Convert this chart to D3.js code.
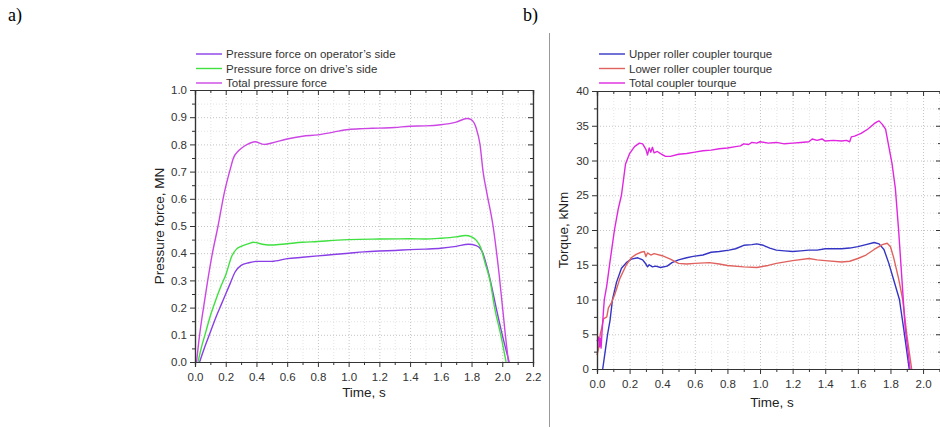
<!DOCTYPE html>
<html>
<head>
<meta charset="utf-8">
<script src="https://cdn.jsdelivr.net/npm/d3@7"></script>
<style>
  body { margin: 0; background: #fff; }
  svg { display: block; font-family: "Liberation Sans", Arial, sans-serif; }
  .tick text { fill: #333; font-size: 11.5px; }
  .domain { stroke: #333; }
  .tick line { stroke: #333; }
</style>
</head>
<body>
<svg id="chart" width="940" height="427"></svg>
<script>
// panel a) - pressure force, MN
var timeA = [0.00, 0.01, 0.03, 0.05, 0.08, 0.11, 0.15, 0.19, 0.23, 0.25, 0.28, 0.30, 0.34, 0.39, 0.45, 0.50, 0.60, 0.70, 0.80, 0.90, 1.00, 1.10, 1.20, 1.30, 1.40, 1.50, 1.60, 1.70, 1.77, 1.80, 1.83, 1.855, 1.875, 1.90, 1.94, 1.98, 2.02, 2.04];
var totalForce = [null, 0.00, 0.10, 0.18, 0.29, 0.39, 0.50, 0.62, 0.71, 0.75, 0.775, 0.785, 0.80, 0.81, 0.80, 0.805, 0.82, 0.83, 0.835, 0.845, 0.855, 0.858, 0.86, 0.862, 0.867, 0.868, 0.872, 0.882, 0.895, 0.89, 0.86, 0.80, 0.70, 0.62, 0.50, 0.32, 0.10, 0.00];

var timeB = [0.02, 0.04, 0.07, 0.10, 0.13, 0.17, 0.20, 0.24, 0.27, 0.30, 0.35, 0.38, 0.45, 0.50, 0.60, 0.70, 0.80, 0.90, 1.00, 1.20, 1.40, 1.50, 1.60, 1.70, 1.76, 1.80, 1.83, 1.86, 1.89, 1.92, 1.95, 1.99, 2.025];
var driveForce = [0.00, 0.05, 0.11, 0.17, 0.22, 0.28, 0.32, 0.39, 0.415, 0.425, 0.435, 0.44, 0.432, 0.43, 0.435, 0.44, 0.443, 0.447, 0.45, 0.452, 0.453, 0.452, 0.455, 0.46, 0.465, 0.46, 0.448, 0.42, 0.36, 0.30, 0.20, 0.10, 0.00];

var timeC = [0.03, 0.06, 0.10, 0.14, 0.17, 0.20, 0.23, 0.26, 0.30, 0.35, 0.40, 0.50, 0.60, 0.70, 0.80, 0.90, 1.00, 1.10, 1.20, 1.30, 1.40, 1.50, 1.60, 1.70, 1.78, 1.83, 1.87, 1.90, 1.93, 1.96, 2.00, 2.045];
var operatorForce = [0.00, 0.05, 0.11, 0.17, 0.21, 0.25, 0.29, 0.33, 0.355, 0.365, 0.37, 0.37, 0.38, 0.385, 0.39, 0.395, 0.40, 0.405, 0.408, 0.41, 0.413, 0.415, 0.418, 0.425, 0.433, 0.428, 0.405, 0.35, 0.28, 0.20, 0.10, 0.00];

// panel b) - coupler torque, kNm
var timeT = [0.00, 0.01, 0.015, 0.02, 0.025, 0.03, 0.04, 0.045, 0.06, 0.08, 0.107, 0.13, 0.15, 0.17, 0.175, 0.20, 0.23, 0.26, 0.28, 0.30, 0.31, 0.32, 0.33, 0.34, 0.35, 0.37, 0.39, 0.42, 0.45, 0.50, 0.55, 0.60, 0.65, 0.70, 0.75, 0.80, 0.85, 0.88, 0.90, 0.93, 0.95, 0.98, 1.00, 1.05, 1.10, 1.15, 1.20, 1.25, 1.30, 1.32, 1.35, 1.38, 1.40, 1.45, 1.50, 1.53, 1.55, 1.56, 1.58, 1.62, 1.66, 1.70, 1.72, 1.73, 1.75, 1.77, 1.79, 1.81, 1.83, 1.85, 1.87, 1.89, 1.92];
var totalTorque = [4.0, 4.6, 3.2, 4.4, 3.0, 5.0, 8.5, 10.0, 12.0, 15.5, 20.0, 23.0, 25.0, 28.6, 29.5, 31.0, 32.0, 32.5, 32.4, 31.6, 30.8, 31.8, 31.2, 31.9, 31.1, 31.3, 31.0, 30.6, 30.6, 30.9, 31.0, 31.2, 31.4, 31.5, 31.7, 31.8, 32.0, 32.1, 32.4, 32.3, 32.6, 32.5, 32.7, 32.5, 32.6, 32.4, 32.5, 32.6, 32.7, 33.1, 32.9, 33.1, 32.8, 32.9, 32.8, 32.9, 32.7, 33.4, 33.5, 33.9, 34.5, 35.3, 35.6, 35.7, 35.2, 34.5, 32.0, 29.5, 26.0, 20.0, 13.0, 6.0, 0.0];

var timeU = [0.035, 0.05, 0.065, 0.08, 0.095, 0.12, 0.15, 0.18, 0.21, 0.25, 0.28, 0.30, 0.31, 0.32, 0.34, 0.36, 0.39, 0.43, 0.46, 0.50, 0.55, 0.59, 0.65, 0.70, 0.75, 0.81, 0.85, 0.90, 0.95, 0.98, 1.02, 1.06, 1.10, 1.15, 1.20, 1.25, 1.30, 1.35, 1.40, 1.45, 1.50, 1.55, 1.60, 1.65, 1.70, 1.73, 1.76, 1.79, 1.82, 1.855, 1.88, 1.915];
var upperTorque = [0.0, 2.5, 5.0, 7.0, 10.0, 12.5, 14.5, 15.3, 15.8, 16.0, 15.7, 15.1, 14.7, 15.0, 14.7, 14.8, 14.6, 14.8, 15.3, 15.7, 16.0, 16.2, 16.4, 16.8, 16.9, 17.1, 17.3, 17.8, 17.9, 18.0, 17.8, 17.4, 17.1, 17.0, 16.9, 17.0, 17.1, 17.1, 17.3, 17.3, 17.3, 17.4, 17.6, 17.9, 18.2, 18.0, 17.2, 15.2, 12.8, 10.0, 6.0, 0.0];

var timeL = [0.00, 0.01, 0.02, 0.03, 0.04, 0.06, 0.07, 0.09, 0.11, 0.14, 0.18, 0.21, 0.24, 0.27, 0.29, 0.30, 0.31, 0.33, 0.35, 0.40, 0.45, 0.50, 0.55, 0.60, 0.69, 0.75, 0.80, 0.90, 0.98, 1.05, 1.10, 1.20, 1.30, 1.35, 1.40, 1.50, 1.55, 1.60, 1.65, 1.70, 1.75, 1.78, 1.80, 1.82, 1.85, 1.875, 1.90, 1.93];
var lowerTorque = [2.0, 3.0, 5.0, 6.0, 7.2, 7.5, 8.8, 9.6, 10.8, 13.0, 15.0, 16.0, 16.5, 16.8, 16.9, 16.2, 16.7, 16.4, 16.6, 16.3, 15.8, 15.2, 15.1, 15.2, 15.3, 15.1, 14.9, 14.7, 14.6, 14.9, 15.2, 15.6, 15.9, 15.7, 15.6, 15.4, 15.5, 15.9, 16.4, 17.2, 17.9, 18.1, 17.6, 16.0, 13.0, 10.0, 5.0, 0.0];

var legendA = ["Pressure force on operator\u2019s side", "Pressure force on drive\u2019s side", "Total pressure force"];
var legendB = ["Upper roller coupler tourque", "Lower roller coupler tourque", "Total coupler tourque"];

var xTicksA = d3.range(0, 2.21, 0.2);
var yTicksA = d3.range(0, 1.001, 0.1);
var xTicksB = d3.range(0, 2.01, 0.2);
var yTicksB = d3.range(0, 40.1, 5);

var svg = d3.select("#chart");

// panel letters and separator
svg.append("text").attr("x", 8).attr("y", 21).text("a)")
  .style("font-family", "'Liberation Serif', 'Times New Roman', serif").style("font-size", "18px");
svg.append("text").attr("x", 523).attr("y", 21).text("b)")
  .style("font-family", "'Liberation Serif', 'Times New Roman', serif").style("font-size", "18px");
svg.append("line").attr("x1", 549.5).attr("x2", 549.5).attr("y1", 33).attr("y2", 427)
  .attr("stroke", "#999").attr("stroke-width", 1);

function toPoints(xs, ys) {
  var pts = [];
  for (var i = 0; i < xs.length; i++) {
    if (ys[i] != null) pts.push([xs[i], ys[i]]);
  }
  return pts;
}

function makePanel(opt) {
  var x = d3.scaleLinear().domain(opt.xDomain).range(opt.xRange);
  var y = d3.scaleLinear().domain(opt.yDomain).range(opt.yRange);
  var g = svg.append("g");

  // minor grid
  g.append("g").selectAll("line").data(opt.xMinor).enter().append("line")
    .attr("x1", d => x(d) + 0.5).attr("x2", d => x(d) + 0.5)
    .attr("y1", opt.yRange[0]).attr("y2", opt.yRange[1])
    .attr("stroke", "#e4e4e4").attr("stroke-dasharray", "1,2");
  g.append("g").selectAll("line").data(opt.yMinor).enter().append("line")
    .attr("y1", d => y(d) + 0.5).attr("y2", d => y(d) + 0.5)
    .attr("x1", opt.xRange[0]).attr("x2", opt.xRange[1])
    .attr("stroke", "#e4e4e4").attr("stroke-dasharray", "1,2");
  // major grid
  g.append("g").selectAll("line").data(opt.xTicks).enter().append("line")
    .attr("x1", d => x(d) + 0.5).attr("x2", d => x(d) + 0.5)
    .attr("y1", opt.yRange[0]).attr("y2", opt.yRange[1])
    .attr("stroke", "#c4c4c4").attr("stroke-dasharray", "1,2");
  g.append("g").selectAll("line").data(opt.yTicks).enter().append("line")
    .attr("y1", d => y(d) + 0.5).attr("y2", d => y(d) + 0.5)
    .attr("x1", opt.xRange[0]).attr("x2", opt.xRange[1])
    .attr("stroke", "#c4c4c4").attr("stroke-dasharray", "1,2");

  // lines
  var line = d3.line().x(d => x(d[0])).y(d => y(d[1])).curve(opt.curve);
  opt.series.forEach(function(s) {
    g.append("path").datum(toPoints(s.xs, s.ys))
      .attr("fill", "none").attr("stroke", s.color).attr("stroke-width", 1.4)
      .attr("stroke-linejoin", "round").attr("d", line);
  });

  // axes: bottom/left outward, top/right inward
  var top = opt.yRange[1], bottom = opt.yRange[0], left = opt.xRange[0], right = opt.xRange[1];
  g.append("g").attr("transform", "translate(0," + bottom + ")")
    .call(d3.axisBottom(x).tickValues(opt.xMinor).tickSize(3).tickFormat(""));
  g.append("g").attr("transform", "translate(0," + bottom + ")")
    .call(d3.axisBottom(x).tickValues(opt.xTicks).tickSize(5).tickPadding(6).tickFormat(opt.xFormat));
  g.append("g").attr("transform", "translate(" + left + ",0)")
    .call(d3.axisLeft(y).tickValues(opt.yMinor).tickSize(3).tickFormat(""));
  g.append("g").attr("transform", "translate(" + left + ",0)")
    .call(d3.axisLeft(y).tickValues(opt.yTicks).tickSize(5).tickPadding(3).tickFormat(opt.yFormat));
  g.append("g").attr("transform", "translate(0," + top + ")")
    .call(d3.axisTop(x).tickValues(opt.xMinor).tickSize(-3).tickFormat(""));
  g.append("g").attr("transform", "translate(0," + top + ")")
    .call(d3.axisTop(x).tickValues(opt.xTicks).tickSize(-5).tickFormat(""));
  g.append("g").attr("transform", "translate(" + right + ",0)")
    .call(d3.axisRight(y).tickValues(opt.yMinor).tickSize(-3).tickFormat(""));
  g.append("g").attr("transform", "translate(" + right + ",0)")
    .call(d3.axisRight(y).tickValues(opt.yTicks).tickSize(-5).tickFormat(""));
  g.selectAll(".domain").attr("stroke-width", 1.2);

  // axis titles
  g.append("text").attr("x", opt.xTitleX).attr("y", opt.xTitleY).attr("text-anchor", "middle")
    .style("font-size", "13.5px").style("fill", "#222").text("Time, s");
  g.append("text").attr("transform", "translate(" + opt.yTitleX + "," + opt.yTitleY + ") rotate(-90)")
    .attr("text-anchor", "middle").style("font-size", "13.5px").style("fill", "#222").text(opt.yTitle);

  // legend
  opt.series.forEach(function(s, i) {
    var ly = opt.legendY + i * 14.5;
    g.append("line").attr("x1", opt.legendX).attr("x2", opt.legendX + 26)
      .attr("y1", ly).attr("y2", ly).attr("stroke", s.color).attr("stroke-width", 1.4);
    g.append("text").attr("x", opt.legendX + 30).attr("y", ly + 4)
      .style("font-size", "11.5px").style("fill", "#333").text(s.label);
  });
}

makePanel({
  xDomain: [0, 2.2], xRange: [195, 533],
  yDomain: [0, 1], yRange: [362, 90],
  xTicks: xTicksA, yTicks: yTicksA,
  xMinor: d3.range(0.1, 2.2, 0.2), yMinor: d3.range(0.05, 1, 0.1),
  xFormat: d3.format(".1f"), yFormat: d3.format(".1f"),
  curve: d3.curveMonotoneX,
  yTitle: "Pressure force, MN", yTitleX: 164, yTitleY: 226,
  xTitleX: 364, xTitleY: 397,
  legendX: 196, legendY: 54,
  series: [
    {xs: timeC, ys: operatorForce, color: "#8a3ee6", label: legendA[0]},
    {xs: timeB, ys: driveForce, color: "#3fe03f", label: legendA[1]},
    {xs: timeA, ys: totalForce, color: "#cc46e4", label: legendA[2]}
  ]
});

// right spine of panel b) sits just past the picture's edge
makePanel({
  xDomain: [0, 2.11], xRange: [597, 941],
  yDomain: [0, 40], yRange: [369, 91],
  xTicks: xTicksB, yTicks: yTicksB,
  xMinor: d3.range(0.1, 2.11, 0.2), yMinor: d3.range(2.5, 40, 5),
  xFormat: d3.format(".1f"), yFormat: d3.format("d"),
  curve: d3.curveLinear,
  yTitle: "Torque, kNm", yTitleX: 568, yTitleY: 230,
  xTitleX: 772, xTitleY: 407,
  legendX: 599, legendY: 54,
  series: [
    {xs: timeU, ys: upperTorque, color: "#3434c4", label: legendB[0]},
    {xs: timeL, ys: lowerTorque, color: "#e0625e", label: legendB[1]},
    {xs: timeT, ys: totalTorque, color: "#e026e0", label: legendB[2]}
  ]
});
</script>
</body>
</html>
